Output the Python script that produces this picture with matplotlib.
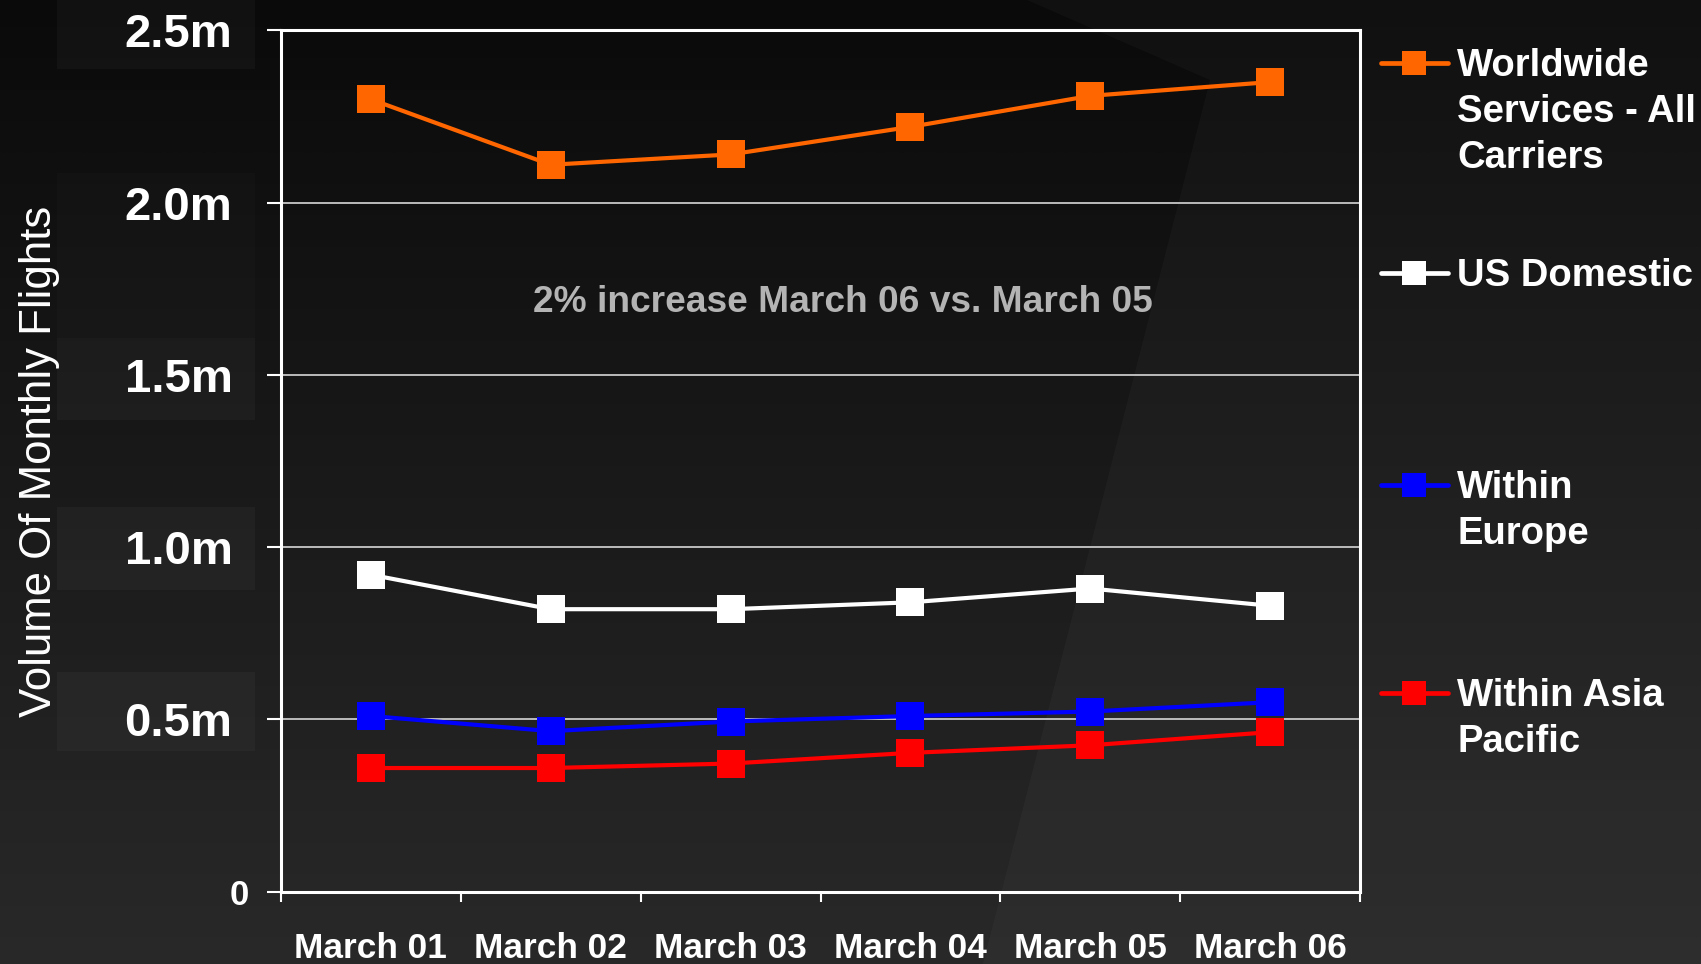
import numpy as np
import matplotlib
matplotlib.use("Agg")
import matplotlib.pyplot as plt
from matplotlib.lines import Line2D
from matplotlib.patches import Polygon, Rectangle
from matplotlib.transforms import ScaledTranslation

# ---------------- data ----------------
categories = ["March 01", "March 02", "March 03", "March 04", "March 05", "March 06"]
worldwide = [2.30, 2.11, 2.14, 2.22, 2.31, 2.35]
us_domestic = [0.92, 0.82, 0.82, 0.84, 0.88, 0.83]
within_europe = [0.51, 0.466, 0.494, 0.51, 0.523, 0.55]
within_asia_pacific = [0.359, 0.359, 0.372, 0.403, 0.425, 0.463]

series_labels = ["Worldwide\nServices - All\nCarriers", "US Domestic",
                 "Within\nEurope", "Within Asia\nPacific"]
series_values = [worldwide, us_domestic, within_europe, within_asia_pacific]
series_colors = ["#FF6600", "#FFFFFF", "#0000FF", "#FF0000"]

y_ticks = [0, 0.5, 1.0, 1.5, 2.0, 2.5]
y_tick_labels = ["0", "0.5m", "1.0m", "1.5m", "2.0m", "2.5m"]
annotation = "2% increase March 06 vs. March 05"
y_label = "Volume Of Monthly Flights"

FONT = "Liberation Sans"
W, H = 1701, 964
fig = plt.figure(figsize=(W / 100, H / 100), dpi=100)

# ---------------- background ----------------
bg = fig.add_axes([0, 0, 1, 1], zorder=-10)
bg.set_xlim(0, W)
bg.set_ylim(H, 0)
bg.axis("off")
grad = np.linspace(0.04, 0.16, 256).reshape(-1, 1)
grad = np.repeat(grad, 2, axis=1)
bg.imshow(np.dstack([grad, grad, grad]), extent=[0, W, H, 0], aspect="auto",
          interpolation="bicubic")
bg.add_patch(Polygon([(1027, 0), (1210, 80), (983, H), (W, H), (W, 0)],
                     closed=True, facecolor="white", alpha=0.028, edgecolor="none"))
for (y0, y1, a) in [(0, 69, 0.03), (173, 338, 0.015), (338, 420, 0.03),
                    (507, 590, 0.03), (672, 751, 0.03)]:
    bg.add_patch(Rectangle((57, y0), 198, y1 - y0, facecolor="white",
                           alpha=a, edgecolor="none"))

# ---------------- main axes ----------------
left, right = 281 / W, 1360 / W
bottom, top = 1 - 891.7 / H, 1 - 30.4 / H
ax = fig.add_axes([left, bottom, right - left, top - bottom])
ax.set_facecolor("none")

x = np.arange(len(categories))
for vals, col in zip(series_values, series_colors):
    ax.plot(x, vals, color=col, lw=3.0, marker="s", markersize=20,
            markeredgewidth=0, zorder=3)

ax.set_xlim(-0.5, len(categories) - 0.5)
ax.set_ylim(0, 2.5)

for s in ax.spines.values():
    s.set_color("white")
    s.set_linewidth(2.2)

ax.set_yticks(y_ticks)
ax.set_yticklabels(y_tick_labels)
ax.tick_params(axis="y", direction="out", length=10, width=1.5, color="white",
               pad=25, labelcolor="white", labelsize=34)
for lab in ax.get_yticklabels():
    lab.set_fontfamily(FONT)
    lab.set_fontweight("bold")
    if lab.get_text() == "0":
        lab.set_fontsize(25)
        lab.set_transform(lab.get_transform() +
                          ScaledTranslation(16 / 100, 0, fig.dpi_scale_trans))

ax.yaxis.grid(True, color="#c8c8c8", lw=1.3)
ax.set_axisbelow(True)

ax.set_xticks(x)
ax.set_xticklabels(categories)
ax.set_xticks(np.arange(len(categories) + 1) - 0.5, minor=True)
ax.tick_params(axis="x", which="major", length=0, pad=29, labelcolor="white",
               labelsize=25.4)
ax.tick_params(axis="x", which="minor", direction="out", length=7, width=1.5,
               color="white")
for lab in ax.get_xticklabels():
    lab.set_fontfamily(FONT)
    lab.set_fontweight("bold")

ax.set_ylabel(y_label, color="white", fontsize=31.5, fontfamily=FONT)
ax.yaxis.set_label_coords(-0.205, 0.5)

ax.text(0.521, 0.684, annotation, transform=ax.transAxes, ha="center",
        va="center", color="#b4b4b4", fontsize=26.7, fontweight="bold",
        fontfamily=FONT)

# ---------------- legend (manual) ----------------
leg_y = [63, 273, 485, 693]
for lab, col, yy in zip(series_labels, series_colors, leg_y):
    fy = 1 - yy / H
    fig.add_artist(Line2D([1381 / W, 1448 / W], [fy, fy], color=col, lw=3.4,
                          solid_capstyle="round", transform=fig.transFigure))
    fig.add_artist(Line2D([1414 / W], [fy], color=col, marker="s",
                          markersize=17, markeredgewidth=0,
                          transform=fig.transFigure))
    fig.text(1457 / W, 1 - (yy - 15) / H, lab, color="white", fontsize=27.5,
             fontweight="bold", fontfamily=FONT, ha="left",
             va="top", linespacing=1.35)

fig.savefig("out.png", dpi=100)
